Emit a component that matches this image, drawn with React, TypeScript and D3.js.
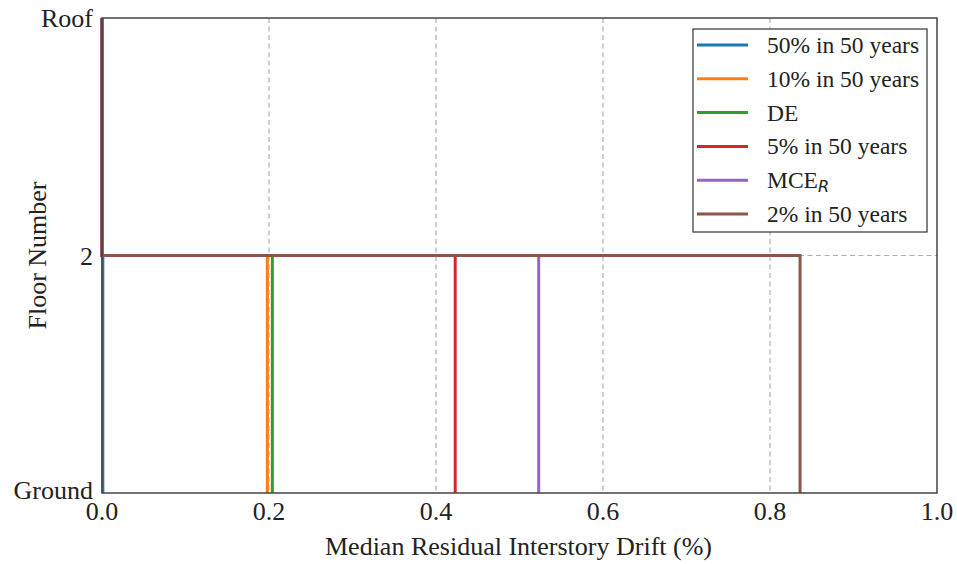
import * as d3 from "d3";
import { useEffect, useRef } from "react";

// story drift at the first story (ground -> 2), upper story is zero
const seriesNames = ["50% in 50 years", "10% in 50 years", "DE", "5% in 50 years", "MCE_R", "2% in 50 years"];
const firstStoryDrift = [0.001, 0.198, 0.204, 0.423, 0.523, 0.836];
const upperStoryDrift = [0, 0, 0, 0, 0, 0];
const floorLabels = ["Ground", "2", "Roof"];
const xTicks = [0, 0.2, 0.4, 0.6, 0.8, 1.0];
const colors = ["#1f77b4", "#ff7f0e", "#2ca02c", "#d62728", "#9467bd", "#8c564b"];

function App() {
  const ref = useRef<SVGSVGElement>(null);

  useEffect(() => {
    const svg = d3.select(ref.current);
    svg.selectAll("*").remove();

    const width = 957;
    const height = 564;
    const left = 102, right = 937, top = 18, bottom = 493;
    const font = "'Liberation Serif', 'Times New Roman', serif";

    const x = d3.scaleLinear().domain([0, 1]).range([left, right]);
    const y = d3.scaleLinear().domain([0, floorLabels.length - 1]).range([bottom, top]);

    svg.attr("width", width).attr("height", height);

    // grid
    const grid = svg.append("g");
    grid.selectAll("line.vx")
      .data(xTicks.slice(1, -1))
      .enter()
      .append("line")
      .attr("x1", d => x(d)).attr("x2", d => x(d))
      .attr("y1", top).attr("y2", bottom)
      .attr("stroke", "#b0b0b0").attr("stroke-width", 1.2)
      .attr("stroke-dasharray", "5,3.5");
    grid.selectAll("line.hy")
      .data([1])
      .enter()
      .append("line")
      .attr("x1", left).attr("x2", right)
      .attr("y1", d => y(d)).attr("y2", d => y(d))
      .attr("stroke", "#b0b0b0").attr("stroke-width", 1.2)
      .attr("stroke-dasharray", "5,3.5");

    // step profiles
    const line = d3.line<[number, number]>()
      .x(d => x(d[0]))
      .y(d => y(d[1]));

    const profiles = seriesNames.map((name, i) => {
      const pts: [number, number][] = [
        [firstStoryDrift[i], 0],
        [firstStoryDrift[i], 1],
        [upperStoryDrift[i], 1],
        [upperStoryDrift[i], 2],
      ];
      return { name, color: colors[i], pts };
    });

    svg.append("g")
      .selectAll("path")
      .data(profiles)
      .enter()
      .append("path")
      .attr("d", d => line(d.pts))
      .attr("fill", "none")
      .attr("stroke", d => d.color)
      .attr("stroke-width", 3);

    // frame
    svg.append("rect")
      .attr("x", left).attr("y", top)
      .attr("width", right - left).attr("height", bottom - top)
      .attr("fill", "none")
      .attr("stroke", "#444")
      .attr("stroke-width", 1.5);

    // tick labels
    svg.append("g")
      .selectAll("text")
      .data(xTicks)
      .enter()
      .append("text")
      .attr("x", d => x(d))
      .attr("y", bottom + 27)
      .attr("text-anchor", "middle")
      .attr("font-family", font)
      .attr("font-size", 26)
      .attr("fill", "#222")
      .text(d => d3.format(".1f")(d));

    svg.append("g")
      .selectAll("text")
      .data(floorLabels)
      .enter()
      .append("text")
      .attr("x", left - 9)
      .attr("y", (d, i) => y(i) + (i === 0 ? 6 : 9))
      .attr("text-anchor", "end")
      .attr("font-family", font)
      .attr("font-size", 26)
      .attr("fill", "#222")
      .text(d => d);

    // axis titles
    svg.append("text")
      .attr("x", (left + right) / 2 - 1)
      .attr("y", 555)
      .attr("text-anchor", "middle")
      .attr("font-family", font)
      .attr("font-size", 26)
      .attr("fill", "#222")
      .text("Median Residual Interstory Drift (%)");

    svg.append("text")
      .attr("transform", `translate(46,${(top + bottom) / 2}) rotate(-90)`)
      .attr("text-anchor", "middle")
      .attr("font-family", font)
      .attr("font-size", 26)
      .attr("fill", "#222")
      .text("Floor Number");

    // legend
    const lg = svg.append("g").attr("transform", "translate(693,29)");
    lg.append("rect")
      .attr("width", 234).attr("height", 203)
      .attr("fill", "white")
      .attr("stroke", "#333")
      .attr("stroke-width", 1.2);

    const items = lg.selectAll("g.item")
      .data(profiles)
      .enter()
      .append("g")
      .attr("transform", (d, i) => `translate(0,${16 + i * 33.8})`);

    items.append("line")
      .attr("x1", 4).attr("x2", 55)
      .attr("y1", 0).attr("y2", 0)
      .attr("stroke", d => d.color)
      .attr("stroke-width", 3);

    items.each(function (d) {
      const t = d3.select(this).append("text")
        .attr("x", 74)
        .attr("y", 8)
        .attr("font-family", font)
        .attr("font-size", 23.5)
        .attr("fill", "#222");
      if (d.name === "MCE_R") {
        t.append("tspan").text("MCE");
        t.append("tspan")
          .attr("font-family", "'DejaVu Sans', sans-serif")
          .attr("font-style", "italic")
          .attr("font-size", 16)
          .attr("dy", 4)
          .text("R");
      } else {
        t.text(d.name);
      }
    });
  }, []);

  return (
    <div style={{ position: "fixed", left: 0, top: 0, background: "white" }}>
      <svg ref={ref} style={{ display: "block" }}></svg>
    </div>
  );
}

export default App;
